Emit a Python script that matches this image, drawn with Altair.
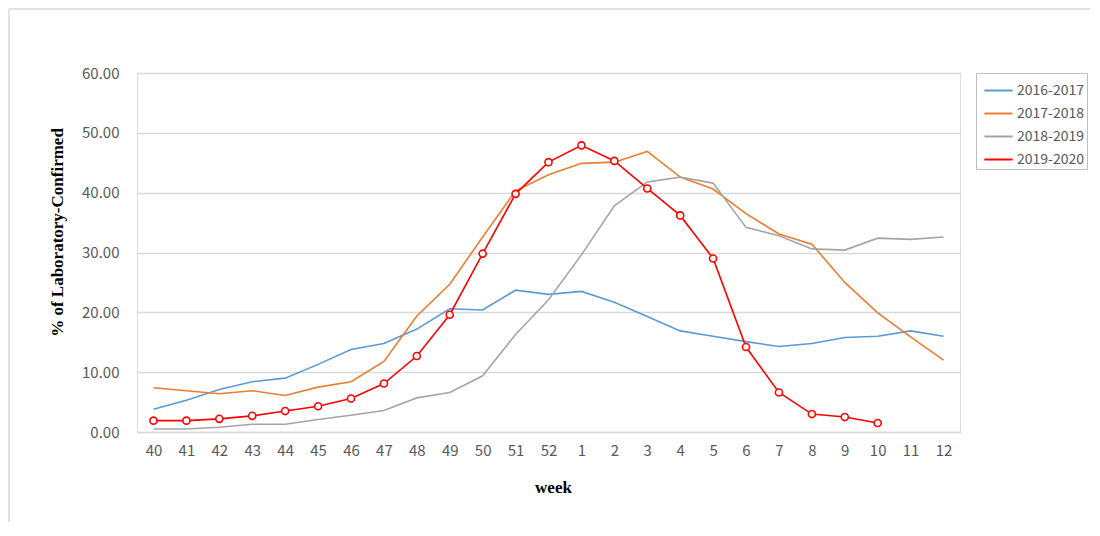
import altair as alt
import pandas as pd

weeks = ["40", "41", "42", "43", "44", "45", "46", "47", "48", "49", "50", "51", "52",
         "1", "2", "3", "4", "5", "6", "7", "8", "9", "10", "11", "12"]

s2016 = [3.8, 5.3, 7.1, 8.4, 9.0, 11.3, 13.8, 14.8, 17.2, 20.6, 20.4, 23.7, 23.0,
         23.5, 21.7, 19.3, 16.9, 16.0, 15.1, 14.3, 14.8, 15.8, 16.0, 16.9, 16.0]
s2017 = [7.4, 6.9, 6.4, 6.9, 6.1, 7.5, 8.4, 11.8, 19.4, 24.7, 32.6, 40.3, 43.0,
         44.9, 45.1, 46.9, 42.6, 40.6, 36.5, 33.1, 31.4, 25.0, 19.9, 15.9, 12.0]
s2018 = [0.5, 0.5, 0.8, 1.3, 1.3, 2.1, 2.8, 3.6, 5.7, 6.6, 9.4, 16.3, 22.1,
         29.6, 37.8, 41.8, 42.6, 41.6, 34.2, 32.8, 30.6, 30.4, 32.4, 32.2, 32.6]
s2019 = [1.9, 1.9, 2.2, 2.7, 3.5, 4.3, 5.6, 8.1, 12.7, 19.6, 29.8, 39.8, 45.1,
         47.9, 45.3, 40.7, 36.2, 29.0, 14.2, 6.6, 3.0, 2.5, 1.5]

series_names = ["2016-2017", "2017-2018", "2018-2019", "2019-2020"]
series_values = [s2016, s2017, s2018, s2019]
series_colors = ["#5b9bd5", "#ed7d31", "#a5a5a5", "#ff0000"]

rows = []
for name, vals in zip(series_names, series_values):
    for w, v in zip(weeks, vals):
        rows.append({"week": w, "value": v, "season": name})
df = pd.DataFrame(rows)

label_font = "Noto Sans CJK JP"
label_color = "#595959"
title_font = "Liberation Serif"

x_enc = alt.X("week:N", sort=weeks,
              scale=alt.Scale(type="point", padding=0.5),
              axis=alt.Axis(title="week", labelAngle=0, ticks=False, domain=True,
                            domainColor="#d9d9d9", domainWidth=1.5, grid=False,
                            labelFont=label_font, labelFontSize=15, labelColor=label_color,
                            labelPadding=11, titleFont=title_font, titleFontSize=17,
                            titleFontWeight="bold", titleColor="#000000", titlePadding=21,
                            titleX=416))
y_enc = alt.Y("value:Q",
              scale=alt.Scale(domain=[0, 60], nice=False),
              axis=alt.Axis(title="% of Laboratory-Confirmed", values=[0, 10, 20, 30, 40, 50, 60],
                            format=".2f", ticks=False, domain=False, grid=True,
                            gridColor="#d9d9d9", gridWidth=1.5,
                            labelFont=label_font, labelFontSize=15, labelColor=label_color,
                            labelPadding=18, titleFont=title_font, titleFontSize=17,
                            titleFontWeight="bold", titleColor="#000000",
                            titleX=-80, titleY=159, titleBaseline="middle", titleAngle=270))

color_scale = alt.Scale(domain=series_names, range=series_colors)

lines = alt.Chart(df).mark_line(strokeWidth=1.6).encode(
    x=x_enc,
    y=y_enc,
    color=alt.Color("season:N", scale=color_scale,
                    legend=alt.Legend(title=None, orient="none", legendX=839, legendY=0,
                                      strokeColor="#bfbfbf", padding=2,
                                      symbolType="stroke", symbolSize=800, symbolStrokeWidth=2,
                                      symbolOffset=5,
                                      labelFont=label_font, labelFontSize=14,
                                      labelColor=label_color, rowPadding=-1, labelOffset=3)),
    strokeWidth=alt.condition(alt.datum.season == "2019-2020", alt.value(2), alt.value(1.6)),
)

points = alt.Chart(df[df["season"] == "2019-2020"]).mark_point(
    shape="circle", filled=True, fill="white", stroke="#ff0000", strokeWidth=1.6, size=50, opacity=1
).encode(x=alt.X("week:N", sort=weeks), y=alt.Y("value:Q"))

border_df = pd.DataFrame({"k": [0]})
top_border = alt.Chart(border_df).mark_rule(color="#d9d9d9", strokeWidth=1.5).encode(
    x=alt.value(-128), x2=alt.value(1100), y=alt.value(-64))
left_border = alt.Chart(border_df).mark_rule(color="#d9d9d9", strokeWidth=1.5).encode(
    x=alt.value(-128), y=alt.value(-64), y2=alt.value(480))

chart = alt.layer(top_border, left_border, lines, points).properties(
    width=823, height=359,
    autosize=alt.AutoSizeParams(type="none"),
    padding={"left": 129, "top": 65, "right": 130, "bottom": 90},
).configure_view(stroke="transparent", strokeWidth=0).configure(background="white")

chart.save("out.html", embed_options={"renderer": "svg", "actions": False})
